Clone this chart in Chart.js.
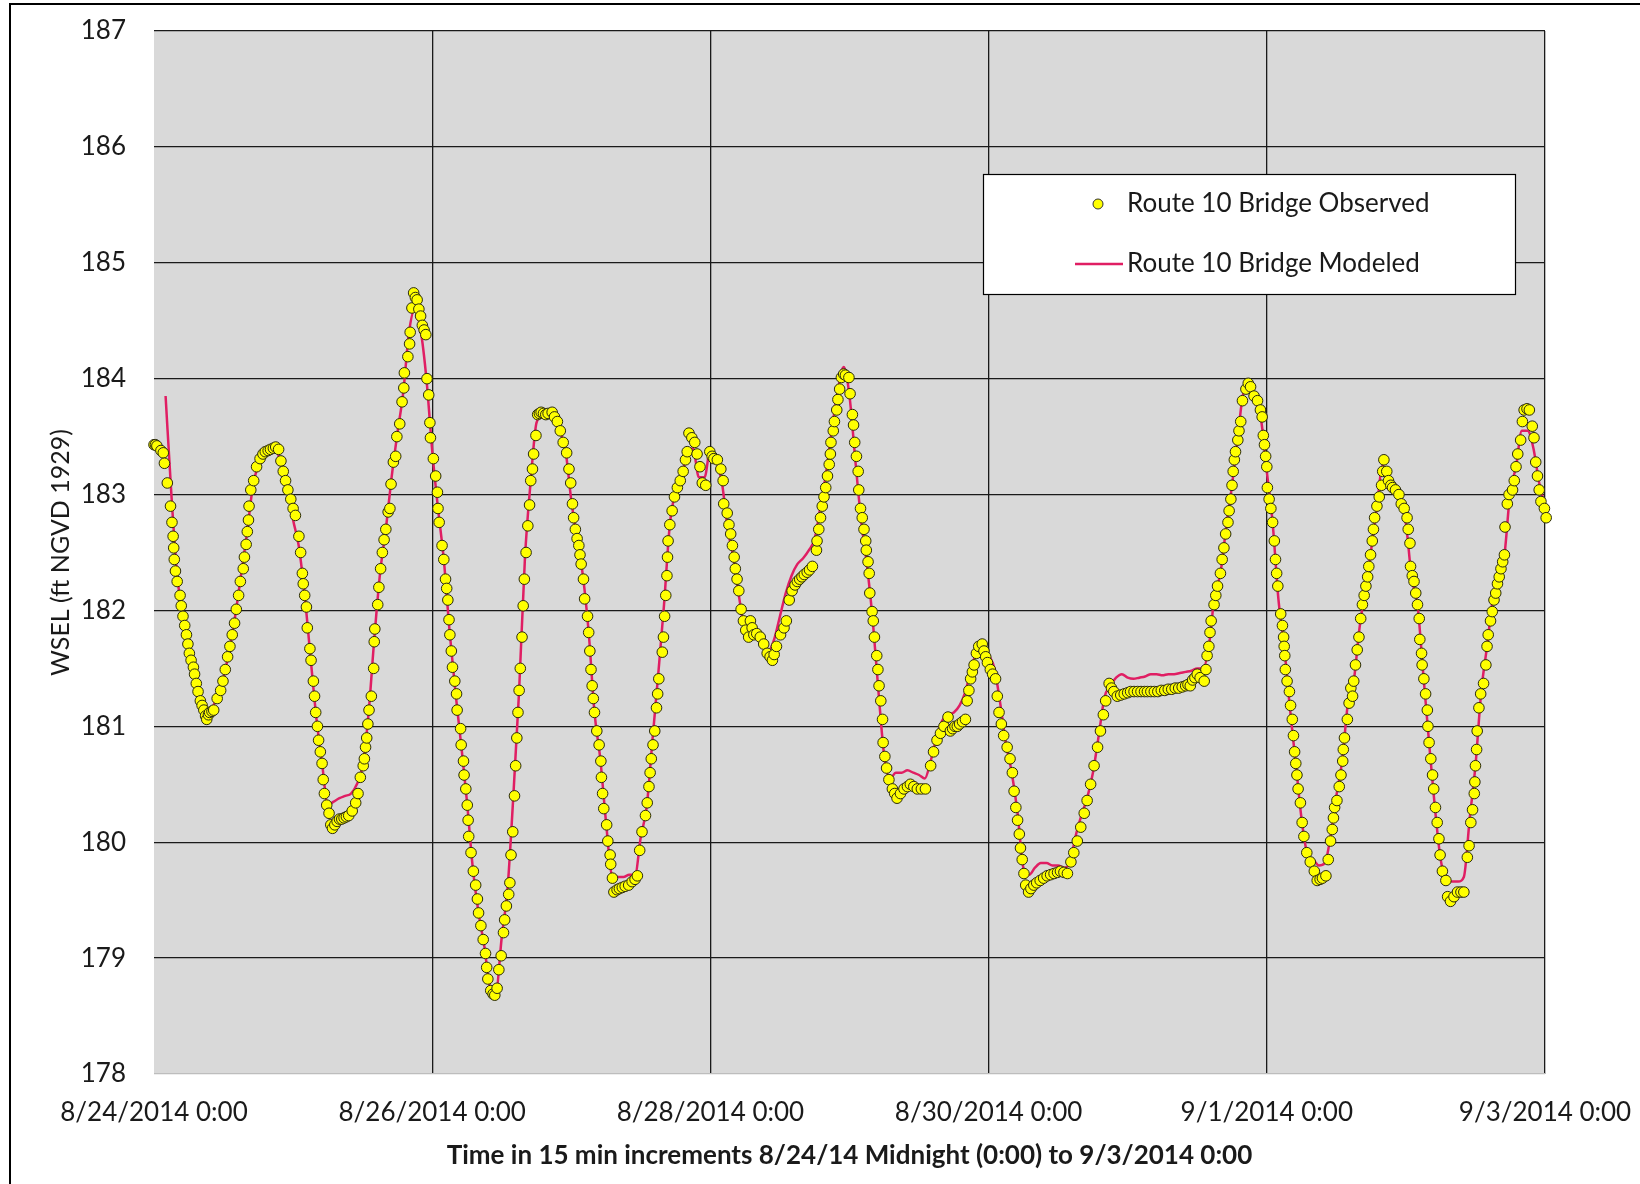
<!DOCTYPE html>
<html>
<head>
<meta charset="utf-8">
<script src="https://cdn.jsdelivr.net/npm/chart.js@4"></script>
<style>
  html, body { margin: 0; padding: 0; background: #fff; }
  #wrap { width: 1640px; height: 1184px; position: relative; }
</style>
</head>
<body>
<div id="wrap"><canvas id="canvas_wsel"></canvas></div>
<script>
// hours since 8/24/2014 0:00 (240 = 9/3/2014 0:00)
const tickLabels = ['8/24/2014 0:00', '8/26/2014 0:00', '8/28/2014 0:00', '8/30/2014 0:00', '9/1/2014 0:00', '9/3/2014 0:00'];

// observed gauge readings: [hour, WSEL]
const observed = [
  [0.0,183.43],[0.25,183.43],[0.5,183.42],[1.2,183.38],[1.6,183.36],[1.8,183.27],[2.3,183.10],[2.85,182.90],
  [3.1,182.76],[3.3,182.64],[3.4,182.54],[3.5,182.44],[3.7,182.34],[4.0,182.25],[4.5,182.13],[4.7,182.04],
  [5.0,181.95],[5.3,181.87],[5.6,181.79],[5.85,181.71],[6.1,181.63],[6.4,181.57],[6.8,181.51],[7.0,181.45],
  [7.3,181.37],[7.6,181.30],[8.0,181.22],[8.3,181.18],[8.6,181.14],[8.9,181.09],[9.1,181.06],[9.4,181.10],
  [9.6,181.12],[10.0,181.13],[10.3,181.14],[10.9,181.24],[11.5,181.31],[11.9,181.39],[12.3,181.49],[12.7,181.60],
  [13.1,181.69],[13.5,181.79],[13.9,181.89],[14.2,182.01],[14.6,182.13],[14.9,182.25],[15.4,182.36],[15.6,182.46],
  [15.9,182.57],[16.1,182.68],[16.3,182.78],[16.4,182.90],[16.7,183.04],[17.2,183.12],[17.7,183.24],[18.3,183.31],
  [18.8,183.35],[19.2,183.37],[19.7,183.38],[20.1,183.39],[20.6,183.40],[21.0,183.41],[21.5,183.39],[21.9,183.29],
  [22.3,183.20],[22.7,183.12],[23.1,183.04],[23.6,182.96],[24.0,182.88],[24.4,182.82],[25.0,182.64],[25.3,182.50],
  [25.6,182.32],[25.75,182.23],[26.0,182.13],[26.3,182.03],[26.45,181.85],[26.9,181.67],[27.1,181.57],[27.5,181.39],
  [27.7,181.26],[27.9,181.12],[28.2,181.00],[28.4,180.88],[28.7,180.78],[29.0,180.68],[29.2,180.54],[29.4,180.42],
  [29.8,180.32],[30.2,180.25],[30.5,180.15],[30.8,180.12],[31.2,180.15],[31.6,180.18],[32.0,180.20],[32.4,180.20],
  [32.8,180.21],[33.2,180.22],[33.6,180.23],[34.2,180.27],[34.8,180.34],[35.2,180.42],[35.6,180.56],[36.1,180.66],
  [36.3,180.72],[36.5,180.82],[36.7,180.90],[36.9,181.02],[37.1,181.14],[37.5,181.26],[37.9,181.50],[38.0,181.73],
  [38.1,181.84],[38.6,182.05],[38.8,182.20],[39.1,182.36],[39.4,182.50],[39.7,182.61],[40.0,182.70],[40.4,182.85],
  [40.7,182.88],[40.9,183.09],[41.3,183.28],[41.7,183.33],[41.9,183.50],[42.4,183.61],[42.8,183.80],[43.1,183.92],
  [43.2,184.05],[43.8,184.19],[44.1,184.30],[44.2,184.40],[44.5,184.61],[44.8,184.74],[45.1,184.70],[45.4,184.68],
  [45.7,184.60],[46.0,184.54],[46.3,184.46],[46.6,184.42],[46.9,184.38],[47.1,184.00],[47.4,183.86],[47.6,183.62],
  [47.7,183.49],[48.2,183.31],[48.6,183.16],[48.9,183.02],[49.0,182.88],[49.2,182.76],[49.7,182.56],[50.0,182.44],
  [50.3,182.27],[50.5,182.19],[50.7,182.09],[50.9,181.92],[51.05,181.79],[51.3,181.65],[51.5,181.51],[51.9,181.39],
  [52.2,181.28],[52.3,181.14],[52.9,180.98],[53.0,180.84],[53.4,180.70],[53.5,180.58],[53.8,180.46],[54.05,180.32],
  [54.2,180.19],[54.3,180.05],[54.7,179.91],[55.1,179.75],[55.5,179.63],[55.8,179.51],[56.0,179.39],[56.4,179.28],
  [56.8,179.16],[57.2,179.04],[57.4,178.92],[57.6,178.82],[58.1,178.72],[58.5,178.69],[58.8,178.68],[59.2,178.74],
  [59.5,178.90],[59.9,179.02],[60.3,179.22],[60.5,179.33],[60.8,179.45],[61.2,179.55],[61.4,179.65],[61.6,179.89],
  [61.9,180.09],[62.2,180.40],[62.4,180.66],[62.6,180.90],[62.8,181.12],[63.0,181.31],[63.2,181.50],[63.5,181.77],
  [63.7,182.04],[63.9,182.27],[64.2,182.50],[64.5,182.73],[64.8,182.91],[65.0,183.12],[65.3,183.22],[65.5,183.35],
  [65.9,183.51],[66.2,183.69],[66.5,183.70],[66.8,183.71],[67.2,183.70],[67.6,183.69],[68.0,183.70],[68.7,183.71],
  [69.1,183.67],[69.6,183.63],[70.1,183.55],[70.6,183.45],[71.2,183.36],[71.6,183.22],[71.9,183.10],[72.2,182.92],
  [72.4,182.80],[72.7,182.70],[73.0,182.62],[73.3,182.56],[73.5,182.48],[73.7,182.40],[74.1,182.27],[74.3,182.10],
  [74.8,181.95],[75.0,181.81],[75.2,181.65],[75.4,181.49],[75.6,181.35],[75.8,181.24],[76.0,181.12],[76.4,180.96],
  [76.8,180.84],[77.1,180.70],[77.2,180.56],[77.4,180.42],[77.6,180.29],[78.1,180.15],[78.3,180.01],[78.7,179.89],
  [78.8,179.81],[79.1,179.69],[79.35,179.57],[79.9,179.59],[80.3,179.60],[80.8,179.61],[81.3,179.62],[81.9,179.63],
  [82.5,179.66],[83.0,179.68],[83.4,179.71],[83.8,179.93],[84.2,180.09],[84.8,180.23],[85.1,180.34],[85.4,180.48],
  [85.6,180.60],[85.8,180.72],[86.1,180.84],[86.4,180.96],[86.7,181.16],[86.9,181.28],[87.1,181.41],[87.7,181.64],
  [87.9,181.77],[88.1,181.95],[88.3,182.13],[88.5,182.30],[88.6,182.46],[88.7,182.60],[89.0,182.74],[89.4,182.86],
  [89.8,182.98],[90.3,183.06],[90.8,183.12],[91.3,183.20],[91.7,183.30],[92.0,183.37],[92.3,183.53],[92.8,183.49],
  [93.3,183.45],[93.7,183.35],[94.2,183.24],[94.6,183.10],[95.2,183.08],[95.9,183.37],[96.3,183.33],[96.6,183.31],
  [97.2,183.30],[97.8,183.22],[98.2,183.12],[98.3,182.92],[98.9,182.84],[99.2,182.74],[99.5,182.66],[99.8,182.56],
  [100.1,182.46],[100.3,182.36],[100.6,182.27],[100.9,182.17],[101.3,182.01],[101.7,181.91],[102.1,181.83],[102.6,181.77],
  [102.9,181.91],[103.2,181.85],[103.5,181.79],[104.0,181.80],[104.6,181.77],[105.2,181.71],[105.8,181.63],[106.3,181.60],
  [106.7,181.57],[107.0,181.62],[107.4,181.69],[108.1,181.79],[108.7,181.85],[109.1,181.91],[109.6,182.09],[110.1,182.17],
  [110.6,182.22],[111.0,182.25],[111.4,182.27],[111.8,182.29],[112.2,182.31],[112.7,182.33],[113.1,182.35],[113.6,182.38],
  [114.3,182.52],[114.4,182.60],[114.7,182.70],[115.0,182.80],[115.3,182.90],[115.6,182.98],[115.9,183.06],[116.2,183.16],
  [116.5,183.26],[116.7,183.35],[116.8,183.45],[117.2,183.55],[117.4,183.63],[117.8,183.73],[118.0,183.82],[118.3,183.91],
  [118.6,184.01],[119.0,184.04],[119.3,184.03],[119.9,184.01],[120.1,183.87],[120.5,183.69],[120.7,183.60],[120.9,183.45],
  [121.2,183.33],[121.5,183.20],[121.6,183.04],[121.9,182.88],[122.2,182.80],[122.5,182.70],[122.8,182.60],[122.9,182.52],
  [123.2,182.42],[123.4,182.32],[123.5,182.15],[123.9,181.99],[124.1,181.91],[124.3,181.77],[124.7,181.61],[124.9,181.49],
  [125.1,181.35],[125.4,181.22],[125.7,181.06],[125.8,180.86],[126.1,180.74],[126.4,180.64],[126.8,180.54],[127.4,180.46],
  [127.8,180.42],[128.2,180.38],[128.8,180.42],[129.4,180.46],[130.0,180.48],[130.5,180.50],[131.1,180.48],[131.7,180.46],
  [132.4,180.46],[133.1,180.46],[134.0,180.66],[134.5,180.78],[135.1,180.88],[135.7,180.94],[136.3,181.00],[137.0,181.08],
  [137.4,180.96],[137.8,180.98],[138.2,181.00],[138.6,181.00],[139.0,181.02],[139.5,181.04],[140.0,181.06],[140.3,181.22],
  [140.6,181.31],[140.9,181.41],[141.2,181.47],[141.5,181.53],[141.9,181.63],[142.3,181.69],[142.9,181.71],[143.2,181.65],
  [143.5,181.60],[143.8,181.55],[144.3,181.49],[144.7,181.45],[145.2,181.41],[145.5,181.26],[145.8,181.12],[146.2,181.02],
  [146.6,180.92],[147.2,180.82],[147.7,180.72],[148.1,180.60],[148.4,180.44],[148.7,180.30],[149.0,180.19],[149.3,180.07],
  [149.5,179.95],[149.8,179.85],[150.1,179.73],[150.4,179.63],[150.9,179.57],[151.3,179.60],[151.8,179.63],[152.3,179.65],
  [152.9,179.67],[153.5,179.69],[154.1,179.71],[154.7,179.72],[155.3,179.73],[155.9,179.74],[156.4,179.75],[157.0,179.74],
  [157.6,179.73],[158.2,179.83],[158.7,179.91],[159.3,180.01],[159.9,180.13],[160.5,180.25],[161.0,180.36],[161.6,180.50],
  [162.2,180.66],[162.8,180.82],[163.3,180.96],[163.8,181.10],[164.2,181.22],[164.8,181.37],[165.2,181.33],[165.6,181.30],
  [166.2,181.26],[166.8,181.27],[167.4,181.28],[168.0,181.29],[168.5,181.30],[169.1,181.30],[169.7,181.30],[170.3,181.30],
  [170.9,181.30],[171.4,181.30],[172.0,181.30],[172.6,181.30],[173.2,181.30],[173.8,181.31],[174.4,181.31],[175.0,181.32],
  [175.6,181.32],[176.2,181.33],[176.8,181.33],[177.4,181.34],[178.0,181.35],[178.4,181.36],[178.8,181.35],[179.2,181.40],
  [179.6,181.42],[180.0,181.45],[180.5,181.42],[181.2,181.39],[181.5,181.49],[181.7,181.61],[182.0,181.69],[182.2,181.81],
  [182.4,181.91],[182.9,182.05],[183.2,182.13],[183.5,182.21],[184.0,182.32],[184.3,182.44],[184.6,182.54],[184.9,182.66],
  [185.3,182.76],[185.5,182.86],[185.8,182.96],[186.0,183.08],[186.2,183.20],[186.4,183.30],[186.6,183.37],[187.0,183.47],
  [187.2,183.55],[187.5,183.63],[187.8,183.81],[188.4,183.91],[188.8,183.96],[189.2,183.93],[189.8,183.85],[190.4,183.81],
  [190.9,183.73],[191.2,183.67],[191.4,183.51],[191.6,183.43],[191.8,183.33],[192.0,183.24],[192.1,183.06],[192.4,182.96],
  [192.7,182.88],[193.0,182.76],[193.3,182.60],[193.5,182.44],[193.7,182.32],[193.9,182.21],[194.4,181.97],[194.7,181.87],
  [194.9,181.77],[195.0,181.69],[195.1,181.61],[195.2,181.49],[195.5,181.39],[195.9,181.30],[196.1,181.18],[196.4,181.06],
  [196.6,180.92],[196.8,180.78],[197.0,180.68],[197.2,180.58],[197.4,180.46],[197.8,180.34],[198.1,180.17],[198.4,180.05],
  [198.9,179.91],[199.5,179.83],[200.2,179.75],[200.7,179.67],[201.2,179.68],[201.6,179.69],[202.2,179.71],[202.6,179.85],
  [203.0,180.01],[203.3,180.11],[203.5,180.21],[203.7,180.30],[204.1,180.36],[204.5,180.48],[204.8,180.58],[205.1,180.70],
  [205.2,180.80],[205.4,180.90],[205.9,181.06],[206.2,181.20],[206.5,181.33],[206.8,181.26],[207.0,181.39],[207.3,181.53],
  [207.6,181.66],[207.9,181.77],[208.2,181.93],[208.5,182.05],[208.8,182.13],[209.1,182.21],[209.4,182.29],[209.6,182.38],
  [209.9,182.48],[210.2,182.60],[210.4,182.70],[210.6,182.80],[211.0,182.90],[211.4,182.98],[211.8,183.08],[212.0,183.20],
  [212.2,183.30],[212.7,183.20],[213.0,183.12],[213.4,183.08],[213.7,183.06],[214.2,183.04],[214.8,183.00],[215.2,182.92],
  [215.7,182.88],[216.2,182.80],[216.4,182.70],[216.7,182.58],[216.8,182.38],[217.1,182.30],[217.4,182.25],[217.7,182.15],
  [218.0,182.05],[218.3,181.93],[218.4,181.75],[218.7,181.63],[218.8,181.53],[219.1,181.41],[219.4,181.28],[219.7,181.14],
  [219.8,181.00],[220.0,180.86],[220.3,180.72],[220.6,180.58],[220.8,180.46],[221.1,180.30],[221.4,180.17],[221.7,180.03],
  [221.9,179.89],[222.3,179.75],[222.9,179.67],[223.2,179.53],[223.7,179.49],[224.3,179.53],[224.9,179.57],[225.5,179.57],
  [226.0,179.57],[226.6,179.87],[226.9,179.97],[227.2,180.17],[227.5,180.28],[227.8,180.42],[227.9,180.52],[228.0,180.66],
  [228.2,180.80],[228.3,180.96],[228.6,181.16],[228.9,181.28],[229.4,181.37],[229.8,181.53],[230.0,181.69],[230.2,181.79],
  [230.6,181.91],[230.9,181.99],[231.2,182.09],[231.5,182.15],[231.8,182.23],[232.1,182.29],[232.4,182.36],[232.7,182.42],
  [233.0,182.48],[233.1,182.72],[233.5,182.92],[233.8,183.00],[234.4,183.04],[234.7,183.12],[235.0,183.24],[235.3,183.35],
  [235.8,183.47],[236.1,183.63],[236.4,183.73],[236.9,183.74],[237.3,183.73],[237.8,183.59],[238.1,183.49],[238.4,183.28],
  [238.7,183.16],[239.0,183.04],[239.3,182.94],[239.9,182.88],[240.2,182.80]
];

// modeled WSEL, hourly from hour 0 (model output starts at hour 2)
const modeled = [
  null, null, 183.85, 183.00, 182.30, 181.95, 181.66, 181.42, 181.24, 181.15,
  181.16, 181.28, 181.42, 181.66, 181.95, 182.30, 182.65, 183.05, 183.26, 183.35,
  183.38, 183.38, 183.25, 183.05, 182.78, 182.55, 182.13, 181.60, 181.08, 180.68,
  180.32, 180.35, 180.38, 180.40, 180.42, 180.50, 180.66, 181.10, 181.75, 182.32,
  182.70, 183.15, 183.53, 183.88, 184.40, 184.60, 184.42, 184.00, 183.38, 182.88,
  182.44, 181.82, 181.30, 180.84, 180.35, 179.78, 179.39, 179.10, 178.75, 178.72,
  179.18, 179.60, 180.40, 181.31, 182.45, 183.12, 183.62, 183.68, 183.68, 183.64,
  183.55, 183.38, 182.95, 182.62, 182.30, 181.81, 181.12, 180.72, 180.17, 179.72,
  179.70, 179.70, 179.72, 179.72, 180.05, 180.30, 180.88, 181.45, 182.05, 182.74,
  183.03, 183.15, 183.35, 183.40, 183.15, 183.15, 183.40, 183.30, 183.10, 182.70,
  182.45, 182.10, 181.85, 181.85, 181.80, 181.72, 181.65, 181.75, 181.95, 182.15,
  182.30, 182.40, 182.45, 182.52, 182.62, 182.90, 183.20, 183.58, 183.90, 184.10,
  183.85, 183.30, 182.78, 182.40, 181.92, 181.30, 180.74, 180.55, 180.60, 180.60,
  180.62, 180.60, 180.58, 180.55, 180.70, 180.90, 181.05, 181.10, 181.12, 181.18,
  181.30, 181.50, 181.65, 181.72, 181.62, 181.50, 181.20, 180.85, 180.60, 180.25,
  179.78, 179.72, 179.78, 179.82, 179.82, 179.80, 179.80, 179.78, 179.82, 180.05,
  180.23, 180.38, 180.60, 180.92, 181.25, 181.35, 181.42, 181.45, 181.42, 181.41,
  181.42, 181.43, 181.45, 181.45, 181.44, 181.45, 181.45, 181.46, 181.47, 181.48,
  181.50, 181.50, 181.69, 182.13, 182.32, 182.72, 183.08, 183.50, 183.88, 183.92,
  183.80, 183.65, 183.20, 182.76, 182.10, 181.69, 181.15, 180.68, 180.20, 179.90,
  179.85, 179.80, 179.82, 180.05, 180.40, 180.70, 181.20, 181.39, 181.85, 182.18,
  182.52, 182.90, 183.25, 183.12, 183.04, 182.95, 182.75, 182.28, 182.05, 181.45,
  180.86, 180.30, 179.85, 179.68, 179.66, 179.66, 179.70, 180.20, 180.66, 181.30,
  181.69, 182.10, 182.32, 182.48, 183.02, 183.24, 183.55, 183.55, 183.40, 183.10,
  182.90
];

const obsColor = '#ffff00';
const modColor = '#e01e63';
const fontFamily = 'Lato, "Liberation Sans", sans-serif';

// grey plot panel, outer frame and the boxed legend
const panelPlugin = {
  id: 'panel',
  beforeDraw(chart) {
    const {ctx, chartArea: a} = chart;
    ctx.save();
    ctx.fillStyle = '#ffffff';
    ctx.fillRect(0, 0, chart.width, chart.height);
    ctx.fillStyle = '#d9d9d9';
    ctx.fillRect(a.left, a.top, a.right - a.left, a.bottom - a.top);
    ctx.restore();
  },
  afterDraw(chart) {
    const {ctx} = chart;
    ctx.save();
    // outer frame
    ctx.strokeStyle = '#000';
    ctx.lineWidth = 2;
    ctx.strokeRect(10, 4, chart.width + 20, chart.height + 20);

    // legend box
    const bx = 983, by = 174, bw = 532, bh = 120;
    ctx.fillStyle = '#fff';
    ctx.fillRect(bx, by, bw, bh);
    ctx.strokeStyle = '#000';
    ctx.lineWidth = 1.2;
    ctx.strokeRect(bx + 0.5, by + 0.5, bw, bh);

    const ds = chart.data.datasets;
    ctx.font = '26px ' + fontFamily;
    ctx.textBaseline = 'middle';

    ctx.beginPath();
    ctx.arc(1098, 204, 5, 0, Math.PI * 2);
    ctx.fillStyle = obsColor;
    ctx.fill();
    ctx.strokeStyle = '#333';
    ctx.lineWidth = 1;
    ctx.stroke();
    ctx.fillStyle = '#1a1a1a';
    ctx.fillText(ds[0].label, 1127, 204);

    ctx.beginPath();
    ctx.moveTo(1075, 264);
    ctx.lineTo(1123, 264);
    ctx.strokeStyle = modColor;
    ctx.lineWidth = 2.5;
    ctx.stroke();
    ctx.fillText(ds[1].label, 1127, 264);
    ctx.restore();
  }
};

new Chart(document.getElementById('canvas_wsel'), {
  type: 'line',
  data: {
    datasets: [
      {
        label: 'Route 10 Bridge Observed',
        data: observed.map(([h, v]) => ({x: h, y: v})),
        showLine: false,
        clip: false,
        pointRadius: 5.3,
        pointBackgroundColor: obsColor,
        pointBorderColor: '#2b2b10',
        pointBorderWidth: 1
      },
      {
        label: 'Route 10 Bridge Modeled',
        data: modeled.map((v, i) => ({x: i, y: v})),
        borderColor: modColor,
        borderWidth: 2.5,
        pointRadius: 0,
        cubicInterpolationMode: 'monotone',
        spanGaps: false
      }
    ]
  },
  options: {
    responsive: true,
    maintainAspectRatio: false,
    animation: false,
    layout: { padding: { top: 31, right: 95, left: 0, bottom: 0 } },
    plugins: {
      legend: { display: false },
      tooltip: { enabled: false }
    },
    scales: {
      x: {
        type: 'linear',
        min: 0,
        max: 240,
        afterFit: (s) => { s.height = 110; s.paddingLeft = 0; s.paddingRight = 0; },
        ticks: {
          stepSize: 48,
          autoSkip: false,
          maxRotation: 0,
          padding: 23,
          color: '#1a1a1a',
          font: { family: fontFamily, size: 26 },
          callback: (v) => tickLabels[v / 48]
        },
        grid: {
          drawTicks: false,
          lineWidth: 1.3,
          color: (c) => (c.tick && c.tick.value === 0) ? 'rgba(0,0,0,0)' : '#1a1a1a'
        },
        border: { display: false },
        title: {
          display: true,
          text: 'Time in 15 min increments 8/24/14 Midnight (0:00) to 9/3/2014 0:00',
          color: '#1a1a1a',
          font: { family: fontFamily, size: 26, weight: 'bold' },
          padding: { top: 0, bottom: 13 }
        }
      },
      y: {
        min: 178,
        max: 187,
        afterFit: (s) => { s.width = 154; s.paddingTop = 0; s.paddingBottom = 0; },
        ticks: {
          stepSize: 1,
          padding: 28,
          color: '#1a1a1a',
          font: { family: fontFamily, size: 26 }
        },
        grid: {
          drawTicks: false,
          lineWidth: 1.3,
          color: (c) => (c.tick && c.tick.value === 178) ? '#bdbdbd' : '#1a1a1a'
        },
        border: { display: false },
        title: {
          display: true,
          text: 'WSEL (ft NGVD 1929)',
          color: '#1a1a1a',
          font: { family: fontFamily, size: 25 },
          padding: { top: 46, bottom: 0 }
        }
      }
    }
  },
  plugins: [panelPlugin]
});
</script>
</body>
</html>
